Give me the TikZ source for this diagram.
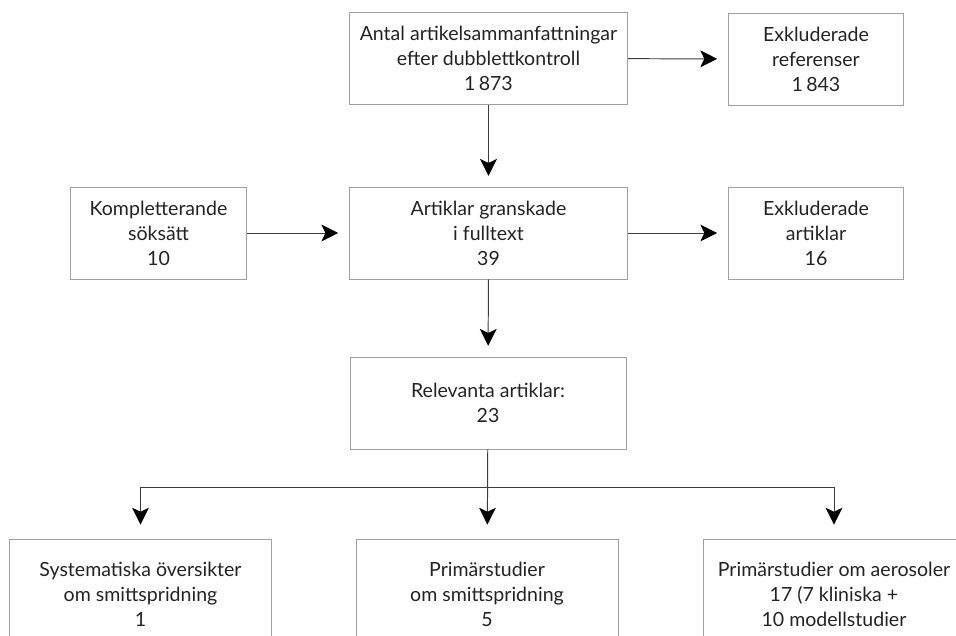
\documentclass[tikz,border=0pt]{standalone}
\usepackage{fontspec}
\setmainfont{Lato}
\usepackage{xcolor}
\usepackage{tikz}
\usetikzlibrary{arrows.meta}

\definecolor{boxgray}{RGB}{160,160,160}
\definecolor{txtgray}{RGB}{35,35,35}
\definecolor{linegray}{RGB}{60,60,60}

\begin{document}
\begin{tikzpicture}[
  x=0.025cm, y=-0.025cm,
  box/.style={rectangle, draw=boxgray, line width=0.6pt, align=center, text=txtgray,
    font=\fontsize{13.9}{17.8}\selectfont, inner sep=0pt, minimum height=2.3cm},
  wide/.style={box, minimum width=6.95cm},
  small/.style={box, minimum width=4.38cm},
  low/.style={box, minimum width=6.55cm, minimum height=2.75cm},
  flow/.style={-{Stealth[length=0.42cm, width=0.42cm, inset=0.1cm, black]}, linegray, line width=0.7pt, shorten >=0.27cm}
]
\useasboundingbox (0,0) rectangle (956,636);

% Top row
\node[wide] (antal) at (488.5,58.5) {Antal artikelsammanfattningar\\efter dubblettkontroll\\1\,873};
\node[small] (exref) at (816,59) {Exkluderade\\referenser\\1\,843};

% Middle row
\node[small] (kompl) at (158.5,233) {Kompletterande\\söksätt\\10};
\node[wide] (gransk) at (488.5,233) {Artiklar granskade\\i fulltext\\39};
\node[small] (exart) at (816,233) {Exkluderade\\artiklar\\16};

% Relevant articles
\node[wide, minimum width=6.9cm] (relev) at (488,403) {Relevanta artiklar:\\23};

% Bottom row
\node[low] (sys) at (140.5,594) {Systematiska översikter\\om smittspridning\\1};
\node[low] (prim) at (487,594) {Primärstudier\\om smittspridning\\5};
\node[low] (aero) at (834,594) {Primärstudier om aerosoler\\17 (7 kliniska +\\10 modellstudier};

% Arrows
\draw[flow] (antal) -- (exref);
\draw[flow] (antal) -- (gransk);
\draw[flow] (kompl) -- (gransk);
\draw[flow] (gransk) -- (exart);
\draw[flow] (gransk) -- (relev);

% Fork to the three groups
\coordinate (fork) at (488,487);
\draw[flow, shorten >=0.35cm] (relev) -- (prim);
\draw[flow, shorten >=0.35cm] (fork) -| (sys);
\draw[flow, shorten >=0.35cm] (fork) -| (aero);
\end{tikzpicture}
\end{document}
